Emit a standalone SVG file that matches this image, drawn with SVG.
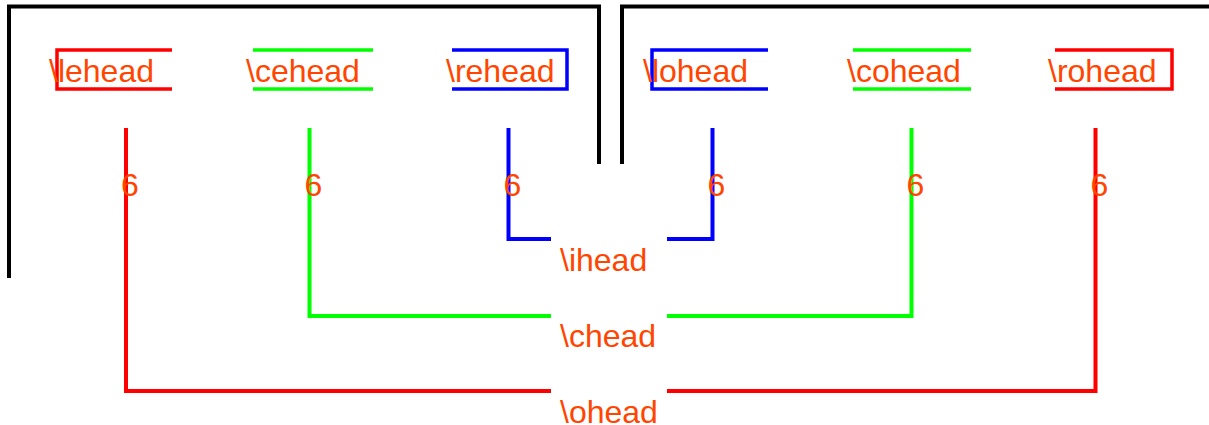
<svg xmlns="http://www.w3.org/2000/svg" width="1209" height="425" viewBox="0 0 1209 425">
<style>
.frame{fill:none;stroke:#000;stroke-width:4}
.box{fill:none;stroke-width:3.5}
.con{fill:none;stroke-width:4}
.r{stroke:#FF0000}.g{stroke:#00FF00}.b{stroke:#0000FF}
text{font-family:"Liberation Sans",Arial,sans-serif;font-size:32px;fill:#FF4500}
</style>
<rect width="1209" height="425" fill="#fff"/>
<g id="frames">
<path class="frame" d="M9,278 V6.5 H599 V164"/>
<path class="frame" d="M622,164 V6.5 H1209"/>
</g>
<g id="connectors">
<path class="con r" d="M126,128 V391 H551"/>
<path class="con r" d="M667,391 H1095.5 V128"/>
<path class="con g" d="M309.5,128 V316 H551"/>
<path class="con g" d="M667,316 H911.5 V128"/>
<path class="con b" d="M508.5,128 V239 H551"/>
<path class="con b" d="M667,239 H712.5 V128"/>
<text x="121" y="196">6</text>
<text x="304.5" y="196">6</text>
<text x="503.5" y="196">6</text>
<text x="707.5" y="196">6</text>
<text x="906.5" y="196">6</text>
<text x="1090.5" y="196">6</text>
</g>
<g id="lehead"><path class="box r" d="M172,50 H57 V89 H172"/><text x="49" y="82">\lehead</text></g>
<g id="cehead"><path class="box g" d="M253,50 H373 M253,89 H373"/><text x="246" y="82">\cehead</text></g>
<g id="rehead"><path class="box b" d="M452,50 H567 V89 H452"/><text x="446" y="82">\rehead</text></g>
<g id="lohead"><path class="box b" d="M768,50 H652 V89 H768"/><text x="643" y="82">\lohead</text></g>
<g id="cohead"><path class="box g" d="M853,50 H971 M853,89 H971"/><text x="847" y="82">\cohead</text></g>
<g id="rohead"><path class="box r" d="M1055,50 H1172 V89 H1055"/><text x="1048" y="82">\rohead</text></g>
<g id="ihead"><text x="560" y="271">\ihead</text></g>
<g id="chead"><text x="560" y="347">\chead</text></g>
<g id="ohead"><text x="560" y="423">\ohead</text></g>
</svg>
